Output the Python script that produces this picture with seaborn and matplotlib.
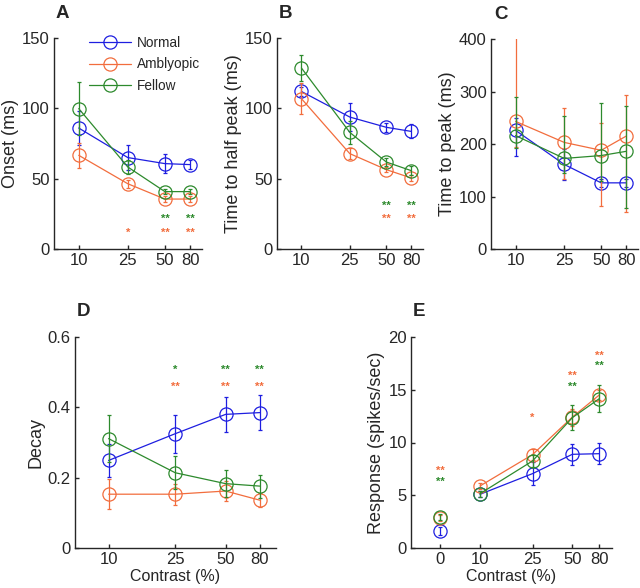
import numpy as np
import pandas as pd
import matplotlib
matplotlib.use("Agg")
import matplotlib.pyplot as plt
import seaborn as sns
from matplotlib.ticker import FixedLocator, NullLocator, FuncFormatter

# ---------------- data ----------------
groups = ["Normal", "Amblyopic", "Fellow"]
contrast = [10, 25, 50, 80]
contrast_e = [0, 10, 25, 50, 80]

onset_normal = [86, 65, 60.7, 60]
onset_normal_err = [12, 9, 7, 3]
onset_amb = [66.6, 46.4, 35.5, 35.5]
onset_amb_err = [9, 3, 2, 2]
onset_fellow = [99.8, 58.3, 40.8, 40.8]
onset_fellow_err = [19, 5, 2, 2]

half_normal = [112, 93.8, 86.5, 83.6]
half_normal_err = [3, 10, 3, 5]
half_amb = [106.9, 67.8, 56.4, 50.5]
half_amb_err = [11, 4, 2, 2]
half_fellow = [128.7, 82.9, 61.8, 55.7]
half_fellow_err = [9, 8, 3, 3]

peak_normal = [226, 161, 126, 126]
peak_normal_lo = [178, 131, 118, 118]
peak_normal_hi = [250, 190, 134, 134]
peak_amb = [243, 203, 188, 215]
peak_amb_lo = [195, 133, 82, 71]
peak_amb_hi = [420, 269, 240, 293]
peak_fellow = [216, 172.5, 178, 186]
peak_fellow_lo = [193, 145, 130, 79]
peak_fellow_hi = [289, 254, 278, 273]

decay_normal = [0.249, 0.325, 0.380, 0.385]
decay_normal_err = [0.048, 0.054, 0.05, 0.05]
decay_amb = [0.153, 0.153, 0.162, 0.136]
decay_amb_err = [0.042, 0.03, 0.028, 0.02]
decay_fellow = [0.311, 0.214, 0.183, 0.176]
decay_fellow_err = [0.066, 0.047, 0.038, 0.033]

resp_normal = [1.61, 5.09, 7.05, 8.88, 8.94]
resp_normal_err = [0.4, 0.3, 1.1, 1.0, 1.0]
resp_amb = [2.84, 5.88, 8.85, 12.4, 14.5]
resp_amb_err = [0.3, 0.3, 0.5, 0.8, 0.5]
resp_fellow = [2.94, 5.15, 8.25, 12.35, 14.15]
resp_fellow_err = [0.3, 0.3, 0.6, 1.2, 1.3]

# significance marks: (contrast, text, value, group)
stars_a = [(25, "*", 11.8, "Amblyopic"), (50, "**", 11.8, "Amblyopic"), (80, "**", 11.8, "Amblyopic"),
           (50, "**", 21.6, "Fellow"), (80, "**", 21.6, "Fellow")]
stars_b = [(50, "**", 21.3, "Amblyopic"), (80, "**", 21.3, "Amblyopic"),
           (50, "**", 31, "Fellow"), (80, "**", 31, "Fellow")]
stars_d = [(25, "**", 0.458, "Amblyopic"), (50, "**", 0.458, "Amblyopic"), (80, "**", 0.458, "Amblyopic"),
           (25, "*", 0.508, "Fellow"), (50, "**", 0.508, "Fellow"), (80, "**", 0.508, "Fellow")]
stars_e = [(0, "**", 7.27, "Amblyopic"), (0, "**", 6.26, "Fellow"), (25, "*", 12.3, "Amblyopic"),
           (50, "**", 16.3, "Amblyopic"), (50, "**", 15.26, "Fellow"),
           (80, "**", 18.26, "Amblyopic"), (80, "**", 17.25, "Fellow")]

colors = {"Normal": "#1e1ee0", "Amblyopic": "#f26d3d", "Fellow": "#2d8a2d"}

# ---------------- style ----------------
sns.set_style("ticks")
plt.rcParams["font.family"] = ["Liberation Sans", "DejaVu Sans"]
plt.rcParams["axes.linewidth"] = 1.0
plt.rcParams["xtick.direction"] = "in"
plt.rcParams["ytick.direction"] = "in"

fig = plt.figure(figsize=(6.4, 5.88), dpi=100)
W, H = 640, 588


def add_ax(l, r, t, b):
    return fig.add_axes([l / W, 1 - b / H, (r - l) / W, (b - t) / H])


axA = add_ax(54, 202, 38, 249)
axB = add_ax(277, 423, 38, 249)
axC = add_ax(491, 638, 39, 249)
axD = add_ax(75, 276, 337, 548)
axE = add_ax(411, 612, 337, 548)

MS = 9.5
LW = 0.9


def draw(ax, x, y, lo, hi, g, label=None, connect=True):
    c = colors[g]
    df = pd.DataFrame({"x": x, "y": y})
    sns.lineplot(data=df, x="x", y="y", ax=ax, color=c, lw=LW if connect else 0,
                 marker="o", markersize=MS, markerfacecolor="none",
                 markeredgecolor=c, markeredgewidth=LW, label=label,
                 errorbar=None, sort=False)
    ax.errorbar(x, y, yerr=[lo, hi], fmt="none", ecolor=c, elinewidth=LW,
                capsize=1.5, capthick=LW)


def panel(ax, series, ylim, yticks, ylabel, letter, stars, xlim=(6.3, 100),
          xlabel=None, xt=contrast, xtl=None, xmap=None, ly=1.095, lx=0.0):
    for (x, y, lo, hi, g, lab, conn) in series:
        draw(ax, x, y, lo, hi, g, lab, conn)
    ax.set_xscale("log")
    ax.set_xlim(*xlim)
    ax.set_ylim(*ylim)
    ax.xaxis.set_major_locator(FixedLocator(xt))
    ax.xaxis.set_minor_locator(NullLocator())
    ax.set_xticklabels(xtl if xtl else [str(v) for v in xt])
    ax.set_yticks(yticks)
    ax.yaxis.set_major_formatter(FuncFormatter(lambda v, p: ("%g" % v)))
    ax.tick_params(labelsize=12, width=1.0, length=3, pad=3)
    ax.set_ylabel(ylabel, fontsize=13, labelpad=2)
    ax.set_xlabel(xlabel if xlabel else "", fontsize=11.5, labelpad=1)
    sns.despine(ax=ax)
    for (cx, txt, v, g) in stars:
        px = xmap(cx) if xmap else cx
        ax.text(px, v, txt, color=colors[g], ha="center", va="center",
                fontsize=8, fontweight="bold")
    ax.text(lx, ly, letter, transform=ax.transAxes, fontsize=13.5,
            fontweight="bold", ha="left", va="baseline")


panel(axA, [
    (contrast, onset_normal, onset_normal_err, onset_normal_err, "Normal", "Normal", True),
    (contrast, onset_amb, onset_amb_err, onset_amb_err, "Amblyopic", "Amblyopic", True),
    (contrast, onset_fellow, onset_fellow_err, onset_fellow_err, "Fellow", "Fellow", True)],
    (0, 150), [0, 50, 100, 150], "Onset (ms)", "A", stars_a, lx=0.01)
leg = axA.legend(loc="upper left", bbox_to_anchor=(0.236, 1.01), frameon=False,
                 fontsize=9.8, handlelength=3.1, handletextpad=0.4,
                 labelspacing=0.55, borderpad=0, borderaxespad=0)

panel(axB, [
    (contrast, half_normal, half_normal_err, half_normal_err, "Normal", None, True),
    (contrast, half_amb, half_amb_err, half_amb_err, "Amblyopic", None, True),
    (contrast, half_fellow, half_fellow_err, half_fellow_err, "Fellow", None, True)],
    (0, 150), [0, 50, 100, 150], "Time to half peak (ms)", "B", stars_b, lx=0.01)


def diff_lo(y, lo):
    return [a - b for a, b in zip(y, lo)]


def diff_hi(y, hi):
    return [b - a for a, b in zip(y, hi)]


panel(axC, [
    (contrast, peak_normal, diff_lo(peak_normal, peak_normal_lo), diff_hi(peak_normal, peak_normal_hi), "Normal", None, True),
    (contrast, peak_amb, diff_lo(peak_amb, peak_amb_lo), diff_hi(peak_amb, peak_amb_hi), "Amblyopic", None, True),
    (contrast, peak_fellow, diff_lo(peak_fellow, peak_fellow_lo), diff_hi(peak_fellow, peak_fellow_hi), "Fellow", None, True)],
    (0, 400), [0, 100, 200, 300, 400], "Time to peak (ms)", "C", [], lx=0.02)

panel(axD, [
    (contrast, decay_normal, decay_normal_err, decay_normal_err, "Normal", None, True),
    (contrast, decay_amb, decay_amb_err, decay_amb_err, "Amblyopic", None, True),
    (contrast, decay_fellow, decay_fellow_err, decay_fellow_err, "Fellow", None, True)],
    (0, 0.6), [0, 0.2, 0.4, 0.6], "Decay", "D", stars_d, xlabel="Contrast (%)",
    ly=1.1, lx=0.01)

# panel E: the zero-contrast point is placed left of 10 on the log axis
zero_pos = 5.0
xmapE = lambda c: zero_pos if c == 0 else c
xe = [xmapE(c) for c in contrast_e]
seriesE = []
for y, e, g in [(resp_normal, resp_normal_err, "Normal"),
                (resp_amb, resp_amb_err, "Amblyopic"),
                (resp_fellow, resp_fellow_err, "Fellow")]:
    seriesE.append((xe[:1], y[:1], e[:1], e[:1], g, None, False))
    seriesE.append((xe[1:], y[1:], e[1:], e[1:], g, None, True))
panel(axE, seriesE, (0, 20), [0, 5, 10, 15, 20], "Response (spikes/sec)", "E", stars_e,
      xlim=(3.0, 100), xlabel="Contrast (%)", xt=xe,
      xtl=[str(c) for c in contrast_e], xmap=xmapE, ly=1.1, lx=0.01)
for ax in [axB, axC, axD, axE]:
    if ax.get_legend():
        ax.get_legend().remove()

fig.savefig("out.png", dpi=100)
